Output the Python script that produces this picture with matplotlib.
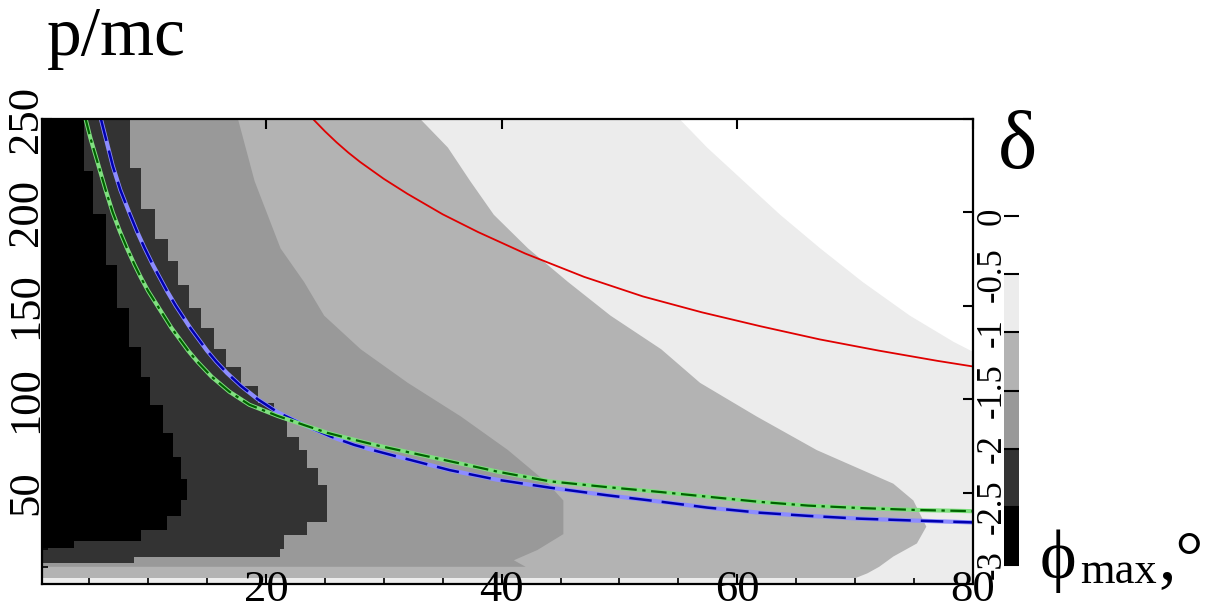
import numpy as np
import matplotlib
matplotlib.use('Agg')
import matplotlib.pyplot as plt
from matplotlib.colors import ListedColormap, BoundaryNorm
from matplotlib.cm import ScalarMappable

plt.rcParams['font.family'] = ['Liberation Serif', 'DejaVu Serif']
plt.rcParams['axes.unicode_minus'] = False

# grey levels of delta, darkest to lightest
levels = [-3, -2.5, -2, -1.5, -1, -0.5, 0]
level_colors = ['#000000', '#333333', '#999999', '#b3b3b3', '#ececec', '#ffffff']

# right edge (phi) of each region vs p/mc
vlight_y = [1, 125.5, 131, 145, 163, 181, 199, 217, 235, 250]
vlight_x = [80, 80, 78.3, 74.6, 70.6, 67, 63.6, 60.5, 57.4, 55.1]

light_y = [4.5, 7, 10.5, 16, 23, 32, 46, 55, 73, 91, 109, 127, 145, 163, 181, 199, 217, 235, 250]
light_x = [70, 71, 72, 73.2, 75.2, 76, 74.9, 73.2, 66.7, 61.6, 56.8, 53.5, 49.2, 45.6, 42.2, 39.3, 37.3, 35.4, 33.1]

medium_y = [10.5, 14, 19.5, 28, 46, 55, 73, 91, 109, 127, 145, 163, 181, 199, 217, 250]
medium_x = [42, 41, 43, 45.2, 45.2, 43.9, 40.5, 36.5, 32, 28, 24.9, 23.2, 21.2, 20.1, 19.0, 17.6]

dark_y = [12.4, 15.7, 20, 27, 34, 54, 63, 73, 80, 91, 98, 107, 117, 127, 138, 149, 161, 174, 186, 202, 224, 250]
dark_x = [8.8, 21.2, 21.5, 23.5, 25.2, 24.4, 23.5, 22.8, 21.8, 20.7, 19.3, 17.9, 16.6, 15.6, 14.5, 13.5, 12.5, 11.7, 10.6, 9.4, 8.5, 8.5]

black_y = [20.5, 24, 30, 37.5, 46, 57, 69, 82, 97, 112, 128, 149, 172, 199, 222, 250]
black_x = [3.7, 9.4, 11.6, 12.8, 13.3, 12.8, 12.1, 11.3, 10.2, 9.4, 8.4, 7.4, 6.4, 5.3, 4.6, 4.6]

# curves
red_x = [24, 25, 26, 27, 28, 30, 32, 35, 38, 42, 47, 52, 57, 62, 67, 72, 77, 80]
red_y = [250, 243.5, 237.5, 232, 227, 218, 210, 199, 189.5, 178, 165.5, 155, 146.5, 139, 132, 126, 120.5, 117.5]

blue_x = [6.0, 6.4, 7.0, 7.65, 8.4, 9.05, 9.7, 10.4, 11.0, 11.6, 12.35, 13.6, 15.0, 15.8, 16.7, 17.9,
          19.3, 21.0, 23.3, 25.5, 27.5, 29.5, 31, 35.6, 39.5, 44.1, 49, 53.6, 57.5, 61.9, 66, 70.4, 75, 80]
blue_y = [250, 240, 225, 212, 200, 190, 181, 172, 165, 158, 150, 138, 126, 120, 114, 107,
          100, 93, 86, 80, 75.5, 72, 69.5, 62, 57, 52.6, 48.5, 45, 41.9, 39.2, 37.5, 36, 35, 34]

green_x = [4.7, 5.1, 5.8, 6.4, 7.0, 7.6, 8.2, 8.85, 9.4, 10.0, 10.8, 12.0, 13.4, 14.2, 15.4, 16.9,
           18.6, 21.0, 23.3, 25.2, 27.2, 29.6, 31.8, 35.8, 39.8, 44.1, 48.8, 53.6, 57.9, 61.9, 66, 70.4, 75, 80]
green_y = [250, 240, 225, 212, 200, 190, 181, 172, 165, 158, 150, 138, 126, 120, 112, 104,
           97, 91, 86, 82, 78.7, 75, 72, 66.5, 61, 56, 53, 50.2, 47.5, 45, 43, 41.7, 40.7, 40]

fig = plt.figure(figsize=(12.07, 6.09), dpi=100)
ax = fig.add_axes([0.0348, 0.041, 0.7713, 0.7635])

ax.fill_betweenx(vlight_y, 1, vlight_x, color=level_colors[4], lw=0)
ax.fill_betweenx(light_y, 1, light_x, color=level_colors[3], lw=0)
ax.fill_betweenx(medium_y, 1, medium_x, color=level_colors[2], lw=0)
ax.fill_betweenx(dark_y, 1, dark_x, step='post', color=level_colors[1], lw=0)
ax.fill_betweenx(black_y, 1, black_x, step='post', color=level_colors[0], lw=0)

ax.plot(red_x, red_y, color='#e00000', lw=1.3)
ax.plot(blue_x, blue_y, color='#8c8cff', lw=3)
ax.plot(blue_x, blue_y, color='#0000b0', lw=1.8, dashes=(9, 4))
ax.plot(green_x, green_y, color='#80e080', lw=3)
ax.plot(green_x, green_y, color='#006400', lw=1.6, dashes=(7, 2.5, 1.5, 2.5))

ax.set_xlim(1, 80)
ax.set_ylim(1, 250)
ax.set_xticks([20, 40, 60, 80])
ax.set_xticks(np.arange(5, 80, 5), minor=True)
ax.set_yticks([50, 100, 150, 200, 250])
ax.set_yticks(np.arange(10, 250, 10), minor=True)
ax.tick_params(which='both', direction='in', top=True, right=True)
ax.tick_params(which='major', length=7, width=1.5)
ax.tick_params(which='minor', length=4.5, width=1.2)
ax.tick_params(axis='x', which='minor', top=False)
ax.tick_params(axis='y', which='minor', right=False)
ax.tick_params(axis='x', labelsize=32, pad=-10)
ax.tick_params(axis='y', labelsize=32, pad=-3)
for t in ax.get_yticklabels():
    t.set_rotation(90)
    t.set_va('center')
for s in ax.spines.values():
    s.set_linewidth(1.6)

cax = fig.add_axes([0.832, 0.0722, 0.0124, 0.573])
cmap = ListedColormap(level_colors)
norm = BoundaryNorm(levels, cmap.N)
cb = fig.colorbar(ScalarMappable(norm=norm, cmap=cmap), cax=cax, ticks=levels)
cb.outline.set_visible(False)
cb.set_ticklabels(['-3', '-2.5', '-2', '-1.5', '-1', '-0.5', '0'])
cax.tick_params(axis='y', which='major', direction='in', length=11, width=1.5,
                left=False, right=True, labelleft=True, labelright=False,
                labelsize=25, pad=-3)
for t in cax.get_yticklabels():
    t.set_rotation(90)
    t.set_va('center')

fig.text(0.039, 0.9097, 'p/mc', fontsize=50, va='baseline')
fig.text(0.8268, 0.724, 'δ', fontsize=60, va='baseline')
fig.text(0.8616, 0.0509, 'ϕ', fontsize=50, va='baseline')
fig.text(0.8948, 0.0427, 'max', fontsize=32, va='baseline')
fig.text(0.9594, 0.0509, ',°', fontsize=50, va='baseline')

fig.savefig('out.png', dpi=100)
